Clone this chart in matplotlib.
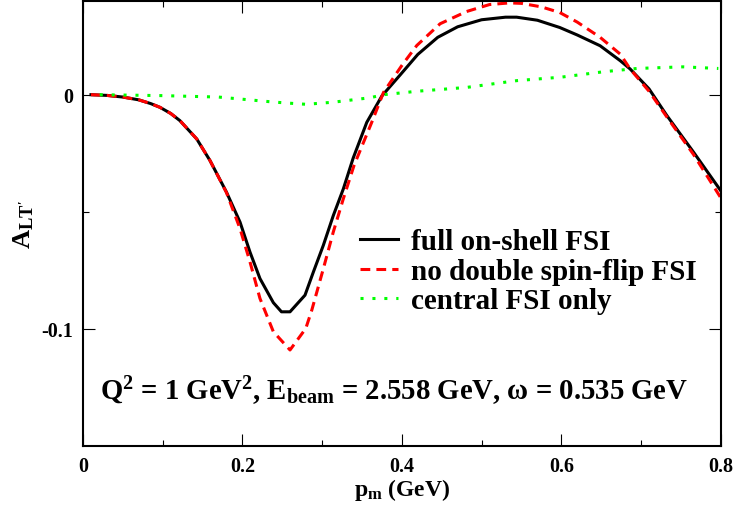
import matplotlib
matplotlib.use("Agg")
import matplotlib.pyplot as plt

plt.rcParams['font.family'] = ['Liberation Serif', 'DejaVu Serif']
plt.rcParams['font.weight'] = 'bold'
plt.rcParams['axes.labelweight'] = 'bold'
plt.rcParams['mathtext.fontset'] = 'custom'
plt.rcParams['mathtext.rm'] = 'Liberation Serif:bold'
plt.rcParams['mathtext.it'] = 'Liberation Serif:bold'
plt.rcParams['mathtext.bf'] = 'Liberation Serif:bold'
plt.rcParams['mathtext.default'] = 'rm'
plt.rcParams['axes.unicode_minus'] = False

# full on-shell FSI
pm_full = [0.01, 0.03, 0.05, 0.07, 0.085, 0.0966, 0.11, 0.1217, 0.1427, 0.1593,
           0.180, 0.197, 0.2095, 0.222, 0.2388, 0.249, 0.2597, 0.2785, 0.289,
           0.3015, 0.314, 0.3266, 0.339, 0.356, 0.375, 0.398, 0.42, 0.445,
           0.47, 0.50, 0.53, 0.544, 0.57, 0.598, 0.62, 0.6487, 0.674, 0.6863,
           0.71, 0.7324, 0.7658, 0.80]
alt_full = [0.0, -0.0003, -0.0010, -0.0022, -0.0038, -0.0054, -0.0080, -0.0111,
            -0.0189, -0.0281, -0.0416, -0.0544, -0.0672, -0.0785, -0.0888,
            -0.0927, -0.0927, -0.0856, -0.0757, -0.0643, -0.0516, -0.0402,
            -0.0270, -0.0118, -0.0005, 0.0085, 0.0172, 0.0245, 0.0290, 0.0320,
            0.0331, 0.0331, 0.0318, 0.0287, 0.0255, 0.0209, 0.0145,
            0.0110, 0.0025, -0.0089, -0.0245, -0.0410]

# no double spin-flip FSI
pm_nodbl = [0.01, 0.03, 0.05, 0.07, 0.085, 0.0966, 0.11, 0.1217, 0.1427, 0.1593,
            0.180, 0.197, 0.2095, 0.222, 0.2388, 0.2597, 0.2795, 0.287, 0.3015,
            0.314, 0.3266, 0.340, 0.3622, 0.377, 0.40, 0.4187, 0.448, 0.481,
            0.51, 0.535, 0.55, 0.575, 0.598, 0.62, 0.6487, 0.674, 0.6863, 0.71,
            0.7324, 0.7658, 0.80]
alt_nodbl = [0.0, -0.0003, -0.0010, -0.0022, -0.0038, -0.0054, -0.0080, -0.0111,
             -0.0189, -0.0281, -0.0418, -0.0572, -0.0714, -0.0870, -0.1012,
             -0.1090, -0.0998, -0.0920, -0.0743, -0.0586, -0.0444, -0.0302,
             -0.0118, 0.0010, 0.0125, 0.0210, 0.0303, 0.0355, 0.0385, 0.0392,
             0.0390, 0.0375, 0.0351, 0.0310, 0.0245, 0.0173, 0.0110, 0.0015,
             -0.0095, -0.0255, -0.0440]

# central FSI only
pm_central = [0.021, 0.10, 0.17, 0.2346, 0.2535, 0.28, 0.314, 0.36, 0.377, 0.42,
              0.481, 0.544, 0.60, 0.653, 0.6947, 0.753, 0.797]
alt_central = [0.0, -0.0004, -0.0010, -0.0030, -0.0035, -0.0041, -0.0032,
               -0.0013, 0.0, 0.0015, 0.0031, 0.0060, 0.0075, 0.0098, 0.0112,
               0.0119, 0.0112]

xticks = [0, 0.2, 0.4, 0.6, 0.8]
xticklabels = ['0', '0.2', '0.4', '0.6', '0.8']
yticks = [-0.1, 0]
yticklabels = ['-0.1', '0']

fig = plt.figure(figsize=(7.35, 5.06), dpi=100)
ax = fig.add_axes([0.1129, 0.1166, 0.8677, 0.8794])

ax.plot(pm_full, alt_full, color='black', lw=2.2, label='full on-shell FSI')
ax.plot(pm_nodbl, alt_nodbl, color='#ff0000', lw=2.2, linestyle=(0, (3.2, 2.0)),
        label='no double spin-flip FSI')
ax.plot(pm_central, alt_central, color='#00ff00', lw=2.2, linestyle=(0, (1, 2.9)),
        label='central FSI only')

ax.set_xlim(0, 0.8)
ax.set_ylim(-0.15, 0.04)
ax.set_xticks(xticks, xticklabels)
ax.set_yticks(yticks, yticklabels)
ax.set_xticks([0.1, 0.3, 0.5, 0.7], minor=True)
ax.set_yticks([-0.05], minor=True)
ax.tick_params(which='both', direction='in', top=True, right=True, width=0.8,
               labelsize=14.5, pad=7)
ax.tick_params(which='major', length=8.6)
ax.tick_params(which='minor', length=4.5)
for s in ax.spines.values():
    s.set_linewidth(1.5)

ax.set_xlabel('p$_{m}$ (GeV)', fontsize=17, labelpad=0)
ax.set_ylabel("A$_{LT'}$", fontsize=19, labelpad=4)

ax.legend(loc='upper left', bbox_to_anchor=(0.434, 0.489), frameon=False,
          fontsize=21, handlelength=1.3, handletextpad=0.46, labelspacing=0.08,
          borderpad=0, borderaxespad=0)

ax.text(0.027, 0.1056, 'Q$^{2}$ = 1 GeV$^{2}$, E$_{beam}$ = 2.558 GeV, ω = 0.535 GeV',
        transform=ax.transAxes, fontsize=20.7, va='baseline', ha='left')

fig.savefig('out.png', dpi=100)
